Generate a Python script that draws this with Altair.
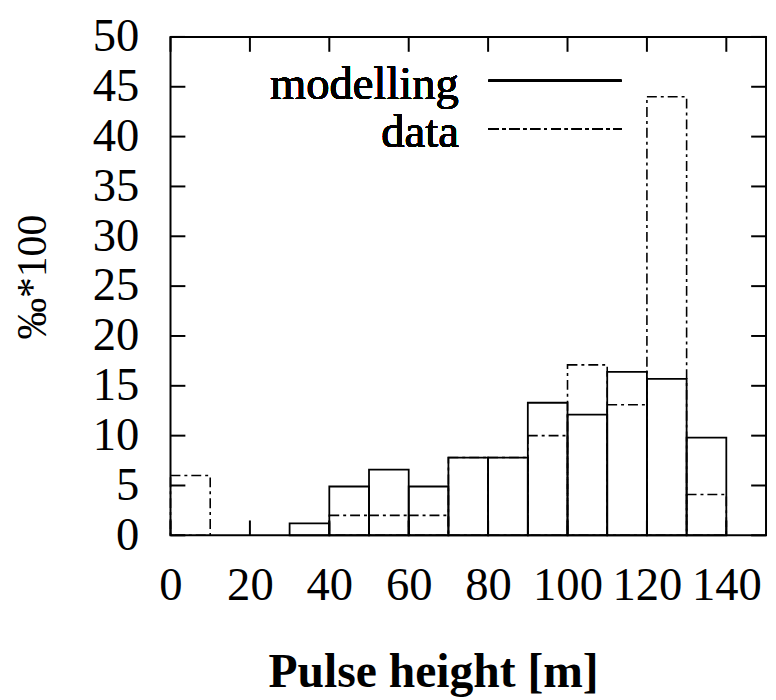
import altair as alt
import pandas as pd

# ---- data ----
bin_start = [0, 10, 20, 30, 40, 50, 60, 70, 80, 90, 100, 110, 120, 130]
bin_end = [10, 20, 30, 40, 50, 60, 70, 80, 90, 100, 110, 120, 130, 140]
modelling = [0, 0, 0, 1.2, 4.9, 6.6, 4.9, 7.8, 7.8, 13.3, 12.1, 16.4, 15.7, 9.8]
data_vals = [6.0, 0, 0, 0, 2.0, 2.0, 2.0, 7.8, 7.8, 10.0, 17.1, 13.1, 44.0, 4.1]
x_ticks = [0, 20, 40, 60, 80, 100, 120, 140]
y_ticks = [0, 5, 10, 15, 20, 25, 30, 35, 40, 45, 50]
legend_labels = ["modelling", "data"]
x_title = "Pulse height [m]"
y_title = "‰*100"

hist = pd.DataFrame({"start": bin_start, "end": bin_end,
                     "modelling": modelling, "data": data_vals})

W, H = 601, 503
FONT = "Liberation Serif"
FS = 47
TL = 15
DASH = [10, 4, 3, 4]

xscale = alt.Scale(domain=[0, 150], nice=False, zero=False)
yscale = alt.Scale(domain=[0, 50], nice=False)

x_axis = alt.Axis(values=x_ticks, title=x_title, grid=False, domain=False, ticks=False,
                  tickSize=0, labelPadding=28, labelFont=FONT, labelFontSize=FS,
                  labelColor="black", labelFlush=False, labelOverlap=False,
                  titleFont=FONT, titleFontSize=48, titleFontWeight="bold", titleColor="black",
                  titleX=265, titleY=153, titleBaseline="alphabetic", titleAnchor="start",
                  titleAlign="center")
y_axis = alt.Axis(values=y_ticks, title=y_title, grid=False, domain=False, ticks=False,
                  tickSize=0, labelPadding=32, labelFont=FONT, labelFontSize=FS,
                  labelColor="black", labelFlush=False, labelOverlap=False,
                  titleFont=FONT, titleFontSize=42, titleFontWeight="normal", titleColor="black",
                  titleX=-139, titleY=242, titleAngle=270, titleAlign="center",
                  titleBaseline="middle")

base = alt.Chart(hist)

data_bars = base.transform_filter("datum.data > 0").mark_bar(
    fillOpacity=0, stroke="black", strokeWidth=1.6, strokeDash=DASH
).encode(
    x=alt.X("start:Q", scale=xscale, axis=x_axis),
    x2="end:Q",
    y=alt.Y("data:Q", scale=yscale, axis=y_axis),
    y2=alt.datum(0),
)

model_bars = base.transform_filter("datum.modelling > 0").mark_bar(
    fillOpacity=0, stroke="black", strokeWidth=1.8
).encode(
    x=alt.X("start:Q", scale=xscale, axis=x_axis),
    x2="end:Q",
    y=alt.Y("modelling:Q", scale=yscale, axis=y_axis),
    y2=alt.datum(0),
)

xt = alt.Chart(pd.DataFrame({"t": x_ticks}))
yt = alt.Chart(pd.DataFrame({"t": y_ticks}))
tick_style = dict(color="black", strokeWidth=2)
bottom_ticks = xt.mark_rule(**tick_style).encode(
    x=alt.X("t:Q", scale=xscale, axis=x_axis), y=alt.value(H), y2=alt.value(H - TL))
top_ticks = xt.mark_rule(**tick_style).encode(
    x=alt.X("t:Q", scale=xscale, axis=x_axis), y=alt.value(0), y2=alt.value(TL))
left_ticks = yt.mark_rule(**tick_style).encode(
    y=alt.Y("t:Q", scale=yscale, axis=y_axis), x=alt.value(0), x2=alt.value(TL))
right_ticks = yt.mark_rule(**tick_style).encode(
    y=alt.Y("t:Q", scale=yscale, axis=y_axis), x=alt.value(W), x2=alt.value(W - TL))

leg_text1 = alt.Chart(hist).mark_text(
    text=legend_labels[0], font=FONT, fontSize=FS, align="right", baseline="alphabetic",
    color="black").encode(x=alt.value(291), y=alt.value(63))
leg_text2 = alt.Chart(hist).mark_text(
    text=legend_labels[1], font=FONT, fontSize=FS, align="right", baseline="alphabetic",
    color="black").encode(x=alt.value(291), y=alt.value(111))
leg_line1 = alt.Chart(hist).mark_rule(color="black", strokeWidth=1.8).encode(
    x=alt.value(321), x2=alt.value(455), y=alt.value(44))
leg_line2 = alt.Chart(hist).mark_rule(color="black", strokeWidth=1.6, strokeDash=DASH).encode(
    x=alt.value(321), x2=alt.value(455), y=alt.value(93))

chart = alt.layer(
    data_bars, model_bars, bottom_ticks, top_ticks, left_ticks, right_ticks,
    leg_text1, leg_text2, leg_line1, leg_line2
).properties(
    width=W, height=H,
    autosize=alt.AutoSizeParams(type="none"),
    padding={"left": 164, "top": 26, "right": 2, "bottom": 163},
    background="white",
).configure_view(stroke="black", strokeWidth=2)

chart.save("out.html", embed_options={"renderer": "svg", "actions": False})
